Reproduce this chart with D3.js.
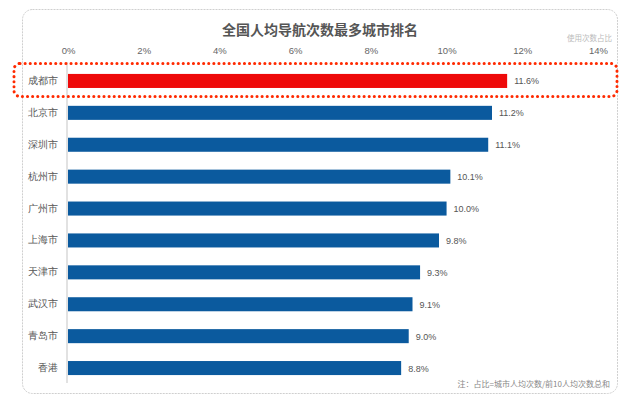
<!DOCTYPE html>
<html><head><meta charset="utf-8">
<script src="https://cdn.jsdelivr.net/npm/d3@7"></script>
<style>body{margin:0;background:#fff;}svg{display:block;font-family:"Noto Sans CJK SC","Noto Sans",sans-serif;}</style>
</head><body>
<svg id="c" width="640" height="400"></svg>
<script>
const cities = ["成都市","北京市","深圳市","杭州市","广州市","上海市","天津市","武汉市","青岛市","香港"];
const shares = [11.6,11.2,11.1,10.1,10.0,9.8,9.3,9.1,9.0,8.8];
const ticks = [0,2,4,6,8,10,12,14];
const title = "全国人均导航次数最多城市排名";
const unitLabel = "使用次数占比";
const note = "注：占比=城市人均次数/前10人均次数总和";

const svg = d3.select("#c");
// panel
svg.append("rect").attr("x",22.5).attr("y",9.5).attr("width",595).attr("height",384).attr("rx",10)
  .attr("fill","#fff").attr("stroke","#cfcfcf").attr("stroke-width",1).attr("stroke-dasharray","2 1");

const x = d3.scaleLinear().domain([0,14]).range([68,598]);
const y = d3.scaleBand().domain(cities).range([65,384]).paddingInner(0.56).paddingOuter(0.28);

svg.append("text").attr("x",320).attr("y",35).attr("text-anchor","middle")
  .attr("font-size",14).attr("font-weight","bold").attr("fill","#555").text(title);
svg.append("text").attr("x",612).attr("y",41).attr("text-anchor","end")
  .attr("font-size",7.5).attr("fill","#bbb").text(unitLabel);

const ax = svg.append("g").attr("transform","translate(0,57)")
  .call(d3.axisTop(x).tickValues(ticks).tickFormat(d=>d+"%").tickSize(0));
ax.select(".domain").remove();
ax.selectAll("text").attr("font-size",9.5).attr("fill","#666").attr("font-family","Liberation Sans, Arial, sans-serif");

// vertical axis line
svg.append("line").attr("x1",67).attr("x2",67).attr("y1",62).attr("y2",383).attr("stroke","#d9d9d9").attr("stroke-width",1.5);

const ay = svg.append("g").attr("transform","translate(58,0)")
  .call(d3.axisLeft(y).tickSize(0).tickPadding(0));
ay.select(".domain").remove();
ay.selectAll("text").attr("font-size",9.5).attr("fill","#555");

svg.selectAll("rect.bar").data(cities).join("rect").attr("class","bar")
  .attr("x",x(0)).attr("y",d=>y(d)).attr("height",y.bandwidth())
  .attr("width",(d,i)=>x(shares[i])-x(0))
  .attr("fill",(d,i)=>i===0?"#ee0a0a":"#0b5a9e");

svg.selectAll("text.val").data(cities).join("text").attr("class","val")
  .attr("x",(d,i)=>x(shares[i])+7).attr("y",d=>y(d)+y.bandwidth()/2+3.5)
  .attr("font-size",9).attr("fill","#555").attr("font-family","Liberation Sans, Arial, sans-serif")
  .text((d,i)=>shares[i].toFixed(1)+"%");

// highlight dotted box
svg.append("rect").attr("x",14).attr("y",63.5).attr("width",603).attr("height",33).attr("rx",6)
  .attr("fill","none").attr("stroke","#ff2a00").attr("stroke-width",3)
  .attr("stroke-dasharray","0.1 5").attr("stroke-linecap","round");

svg.append("text").attr("x",610).attr("y",387).attr("text-anchor","end")
  .attr("font-size",8).attr("fill","#888").text(note);
</script>
</body></html>
